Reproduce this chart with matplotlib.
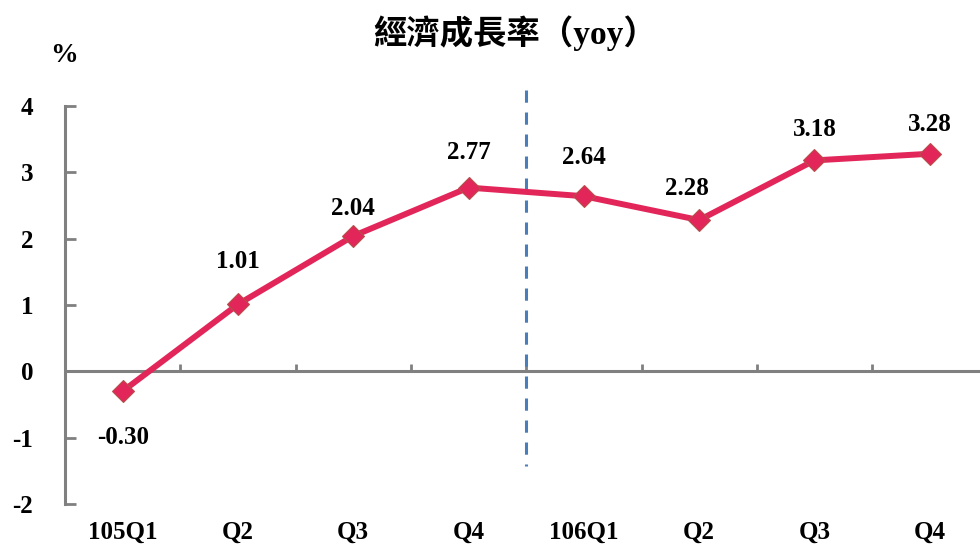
import matplotlib
matplotlib.use("Agg")
import matplotlib.pyplot as plt

categories = ["105Q1", "Q2", "Q3", "Q4", "106Q1", "Q2", "Q3", "Q4"]
growth = [-0.30, 1.01, 2.04, 2.77, 2.64, 2.28, 3.18, 3.28]
yticks = [-2, -1, 0, 1, 2, 3, 4]
title = "經濟成長率（yoy）"

# label offsets in points (style only)
label_dy = [-33, 31, 20, 25, 28, 23, 22, 21]
label_dx = [0, 0, 0, 0, 0, -9, 0, 0]

plt.rcParams['font.family'] = ['Liberation Serif', 'Noto Sans CJK TC', 'DejaVu Sans']

fig = plt.figure(figsize=(9.8, 5.47), dpi=100)
ax = fig.add_axes([65/980, 43/547, 1 - 65/980, (504-106)/547])

x = list(range(len(categories)))
line_color = '#E2265A'
ax.plot(x, growth, color=line_color, lw=4.3, marker='D', ms=11,
        markerfacecolor=line_color, markeredgecolor='#B5504A', markeredgewidth=0.8,
        zorder=4, clip_on=False)

for xi, v, dy, dx in zip(x, growth, label_dy, label_dx):
    ax.annotate(f"{v:.2f}", (xi, v), xytext=(dx, dy), textcoords='offset points',
                ha='center', va='center', fontsize=18, fontweight='bold', color='black')

ax.set_xlim(-0.5, (980-65)/115.3 - 0.5)
ax.set_ylim(-2, 4)

for s in ['top', 'right', 'bottom']:
    ax.spines[s].set_visible(False)
ax.spines['left'].set_color('#808080')
ax.spines['left'].set_linewidth(2.2)

ax.axhline(0, color='#808080', lw=2.2, zorder=2)
bounds = [i + 0.5 for i in range(len(categories))]
ax.vlines(bounds, 0, 0.11, color='#808080', lw=2.0, zorder=2)

# dashed divider between years
ax.plot([3.5, 3.5], [4.24, -1.43], color='#4A7EBB', lw=2.2, ls=(0, (4, 3.2)),
        zorder=3, clip_on=False)

ax.set_yticks(yticks)
ax.set_yticklabels([str(t) for t in yticks], fontsize=18, fontweight='bold')
ax.tick_params(axis='y', direction='in', length=8, width=2, color='#808080', pad=23)

ax.set_xticks(x)
ax.set_xticklabels(categories, fontsize=18, fontweight='bold')
ax.tick_params(axis='x', length=0, pad=12)

fig.text(515/980, 1 - 33/547, title, ha='center', va='center', fontsize=24, fontweight='bold')
fig.text(64/980, 1 - 55/547, "%", ha='center', va='center', fontsize=20, fontweight='bold')

fig.savefig("out.png", dpi=100)
